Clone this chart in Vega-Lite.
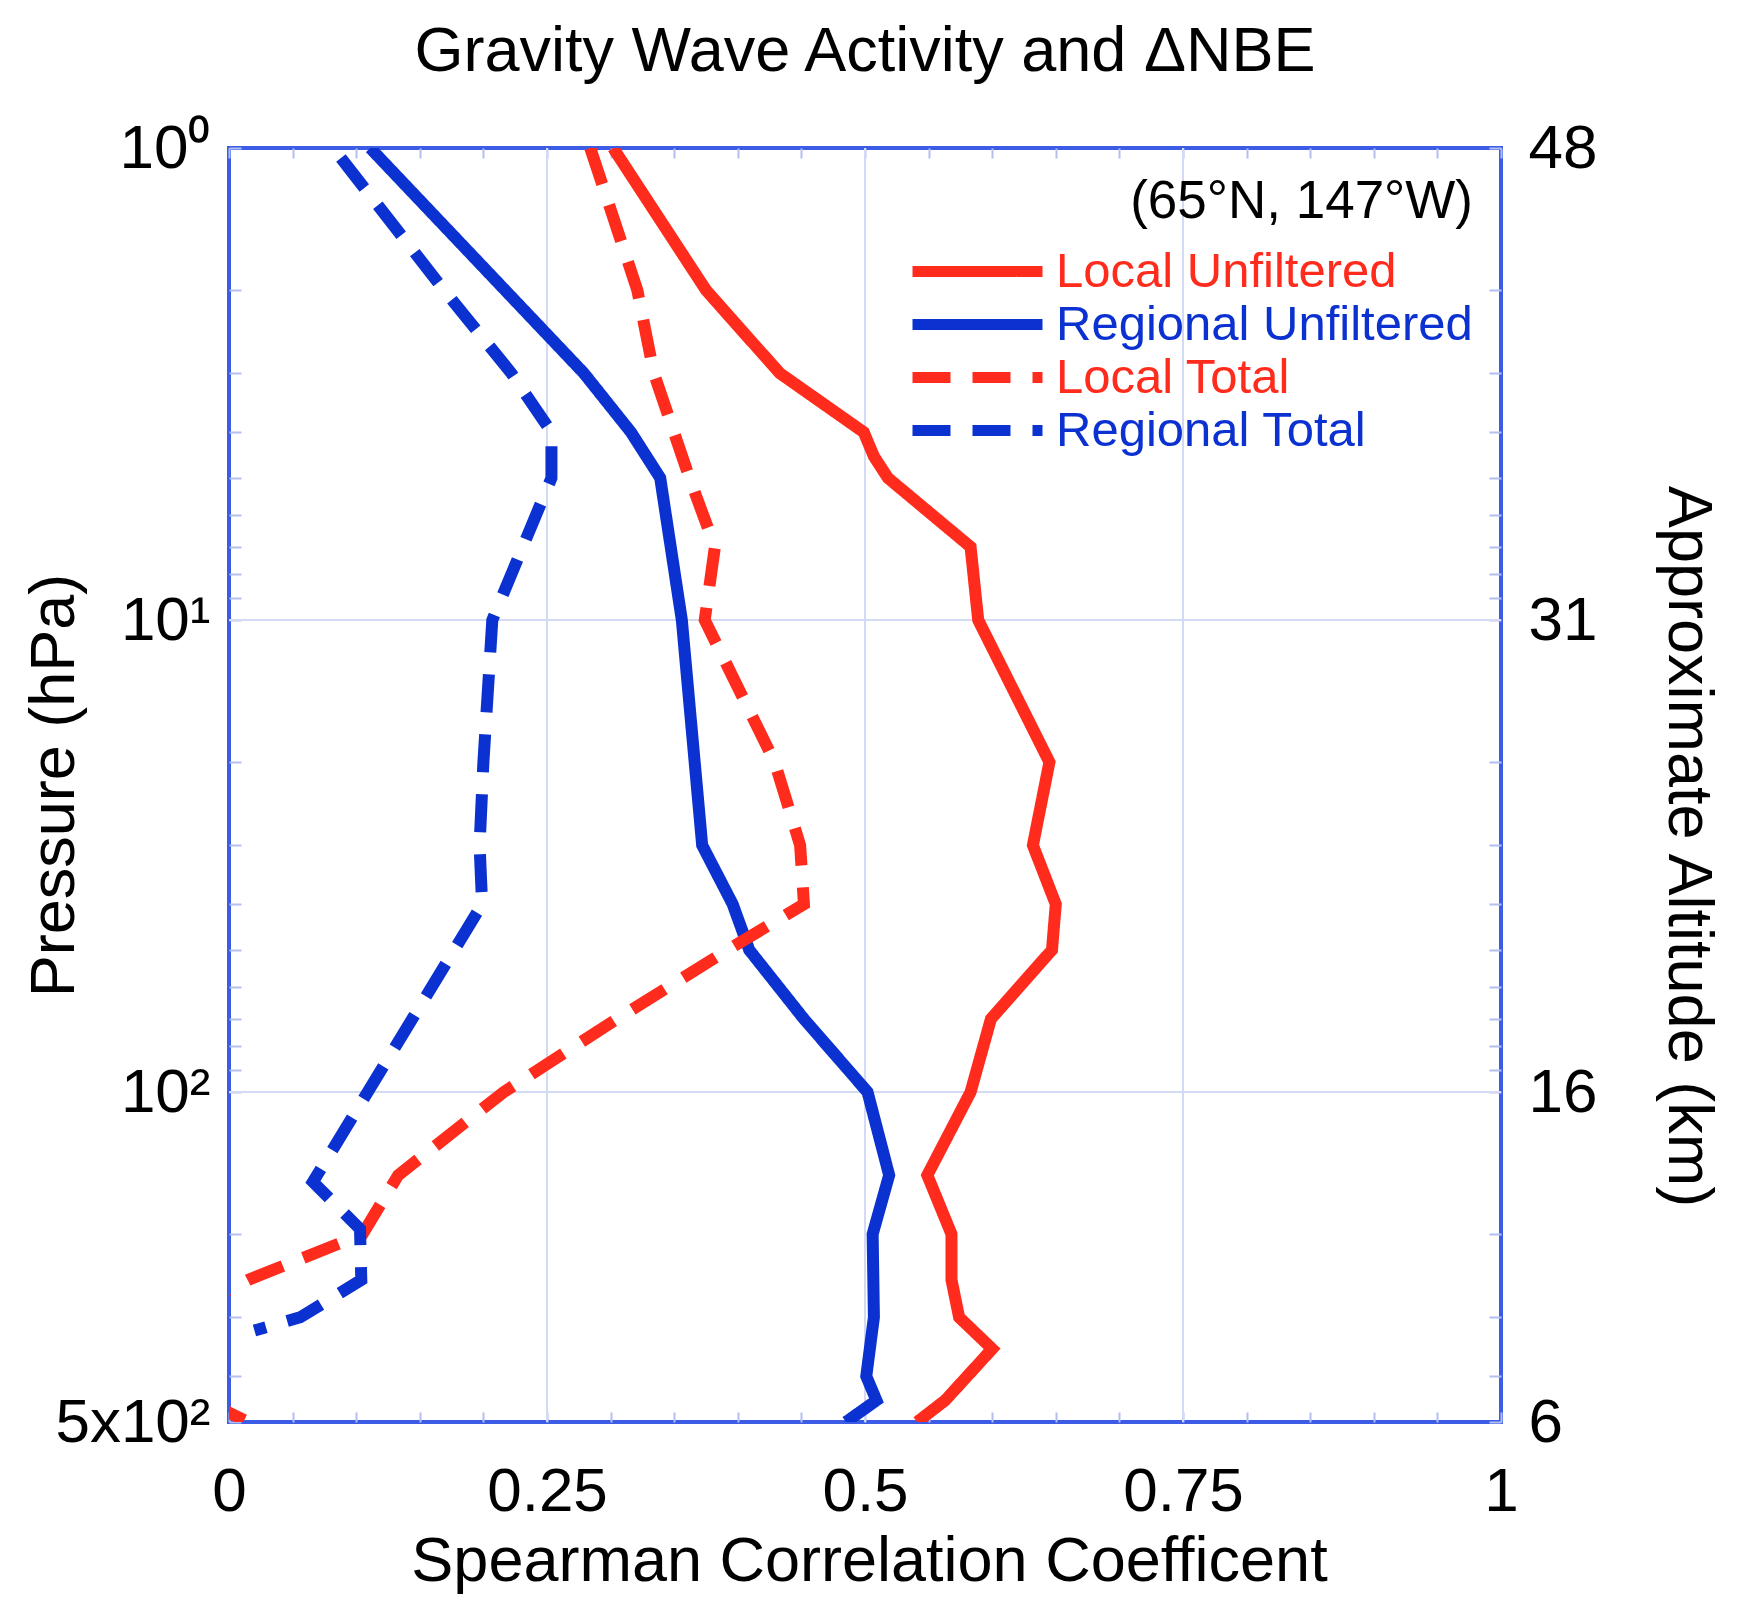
{
  "$schema": "https://vega.github.io/schema/vega-lite/v6.json",
  "width": 1272,
  "height": 1274,
  "autosize": {"type": "none"},
  "padding": {"left": 229, "top": 148, "right": 245, "bottom": 180},
  "background": "white",
  "title": {
    "text": "Gravity Wave Activity and ΔNBE",
    "fontSize": 63,
    "font": "Liberation Sans",
    "fontWeight": "normal",
    "color": "black",
    "anchor": "middle",
    "baseline": "alphabetic",
    "offset": -17
  },
  "config": {
    "view": {"stroke": "#3d5ce6", "strokeWidth": 4},
    "font": "Liberation Sans",
    "axis": {
      "labelFont": "Liberation Sans",
      "titleFont": "Liberation Sans",
      "labelColor": "black",
      "titleColor": "black",
      "titleFontWeight": "normal",
      "domain": false,
      "grid": false,
      "tickColor": "#b3bff0",
      "tickWidth": 2,
      "labelOverlap": false,
      "labelBound": false,
      "labelFlush": false
    }
  },
  "layer": [
    {
      "data": {"values": [{"r": 0.25}, {"r": 0.5}, {"r": 0.75}]},
      "mark": {"type": "rule", "color": "#d4d9f4", "strokeWidth": 2},
      "encoding": {
        "x": {
          "field": "r",
          "type": "quantitative",
          "scale": {"domain": [0, 1], "nice": false, "zero": false},
          "axis": {
            "orient": "top",
            "values": [0, 0.05, 0.1, 0.15, 0.2, 0.25, 0.3, 0.35, 0.4, 0.45, 0.5, 0.55, 0.6, 0.65, 0.7, 0.75, 0.8, 0.85, 0.9, 0.95, 1],
            "labels": false,
            "tickSize": -10,
            "title": null
          }
        }
      }
    },
    {
      "data": {"values": [{"p": 10}, {"p": 100}]},
      "mark": {"type": "rule", "color": "#d4d9f4", "strokeWidth": 2},
      "encoding": {
        "y": {
          "field": "p",
          "type": "quantitative",
          "scale": {"type": "log", "domain": [1, 500], "reverse": true, "nice": false},
          "axis": {
            "orient": "right",
            "values": [1, 2, 3, 4, 5, 6, 7, 8, 9, 10, 20, 30, 40, 50, 60, 70, 80, 90, 100, 200, 300, 400, 500],
            "labelExpr": "datum.value == 1 ? '48' : datum.value == 10 ? '31' : datum.value == 100 ? '16' : datum.value == 500 ? '6' : ''",
            "labelFontSize": 62,
            "labelAlign": "left",
            "labelBaseline": "middle",
            "labelPadding": 39,
            "tickSize": -12,
            "title": "Approximate Altitude (km)",
            "titleFontSize": 63,
            "titleAngle": 90,
            "titleX": 167,
            "titleY": 698,
            "titleAlign": "center",
            "titleBaseline": "alphabetic"
          }
        }
      }
    },
    {
      "data": {
        "values": [
          {"series": "Local Unfiltered", "p": 1, "r": 0.302},
          {"series": "Local Unfiltered", "p": 2, "r": 0.375},
          {"series": "Local Unfiltered", "p": 3, "r": 0.433},
          {"series": "Local Unfiltered", "p": 4, "r": 0.499},
          {"series": "Local Unfiltered", "p": 4.5, "r": 0.507},
          {"series": "Local Unfiltered", "p": 5, "r": 0.518},
          {"series": "Local Unfiltered", "p": 7, "r": 0.583},
          {"series": "Local Unfiltered", "p": 10, "r": 0.589},
          {"series": "Local Unfiltered", "p": 20, "r": 0.645},
          {"series": "Local Unfiltered", "p": 30, "r": 0.632},
          {"series": "Local Unfiltered", "p": 40, "r": 0.65},
          {"series": "Local Unfiltered", "p": 50, "r": 0.647},
          {"series": "Local Unfiltered", "p": 70, "r": 0.599},
          {"series": "Local Unfiltered", "p": 100, "r": 0.583},
          {"series": "Local Unfiltered", "p": 150, "r": 0.549},
          {"series": "Local Unfiltered", "p": 200, "r": 0.568},
          {"series": "Local Unfiltered", "p": 250, "r": 0.568},
          {"series": "Local Unfiltered", "p": 300, "r": 0.574},
          {"series": "Local Unfiltered", "p": 350, "r": 0.6},
          {"series": "Local Unfiltered", "p": 450, "r": 0.563},
          {"series": "Local Unfiltered", "p": 500, "r": 0.541},
          {"series": "Regional Unfiltered", "p": 1, "r": 0.111},
          {"series": "Regional Unfiltered", "p": 3, "r": 0.279},
          {"series": "Regional Unfiltered", "p": 4, "r": 0.316},
          {"series": "Regional Unfiltered", "p": 5, "r": 0.339},
          {"series": "Regional Unfiltered", "p": 10, "r": 0.356},
          {"series": "Regional Unfiltered", "p": 30, "r": 0.372},
          {"series": "Regional Unfiltered", "p": 40, "r": 0.396},
          {"series": "Regional Unfiltered", "p": 50, "r": 0.409},
          {"series": "Regional Unfiltered", "p": 70, "r": 0.452},
          {"series": "Regional Unfiltered", "p": 100, "r": 0.502},
          {"series": "Regional Unfiltered", "p": 150, "r": 0.519},
          {"series": "Regional Unfiltered", "p": 200, "r": 0.506},
          {"series": "Regional Unfiltered", "p": 300, "r": 0.507},
          {"series": "Regional Unfiltered", "p": 400, "r": 0.501},
          {"series": "Regional Unfiltered", "p": 450, "r": 0.509},
          {"series": "Regional Unfiltered", "p": 500, "r": 0.485},
          {"series": "Local Total", "p": 1, "r": 0.284},
          {"series": "Local Total", "p": 2, "r": 0.321},
          {"series": "Local Total", "p": 3, "r": 0.334},
          {"series": "Local Total", "p": 5, "r": 0.362},
          {"series": "Local Total", "p": 7, "r": 0.382},
          {"series": "Local Total", "p": 10, "r": 0.374},
          {"series": "Local Total", "p": 20, "r": 0.429},
          {"series": "Local Total", "p": 30, "r": 0.449},
          {"series": "Local Total", "p": 40, "r": 0.452},
          {"series": "Local Total", "p": 50, "r": 0.392},
          {"series": "Local Total", "p": 70, "r": 0.305},
          {"series": "Local Total", "p": 100, "r": 0.216},
          {"series": "Local Total", "p": 150, "r": 0.133},
          {"series": "Local Total", "p": 200, "r": 0.105},
          {"series": "Local Total", "p": 250, "r": 0.015},
          {"series": "Local Total", "p": 300, "r": -0.04},
          {"series": "Local Total", "p": 350, "r": -0.06},
          {"series": "Local Total", "p": 400, "r": -0.05},
          {"series": "Local Total", "p": 450, "r": -0.02},
          {"series": "Local Total", "p": 500, "r": 0.015},
          {"series": "Regional Total", "p": 1.05, "r": 0.088},
          {"series": "Regional Total", "p": 2, "r": 0.169},
          {"series": "Regional Total", "p": 3, "r": 0.222},
          {"series": "Regional Total", "p": 4, "r": 0.2535},
          {"series": "Regional Total", "p": 5, "r": 0.2535},
          {"series": "Regional Total", "p": 10, "r": 0.207},
          {"series": "Regional Total", "p": 20, "r": 0.2},
          {"series": "Regional Total", "p": 30, "r": 0.197},
          {"series": "Regional Total", "p": 40, "r": 0.199},
          {"series": "Regional Total", "p": 100, "r": 0.109},
          {"series": "Regional Total", "p": 155, "r": 0.066},
          {"series": "Regional Total", "p": 195, "r": 0.103},
          {"series": "Regional Total", "p": 250, "r": 0.104},
          {"series": "Regional Total", "p": 300, "r": 0.056},
          {"series": "Regional Total", "p": 320, "r": 0.02}
        ]
      },
      "mark": {"type": "line", "strokeWidth": 12, "clip": true, "strokeCap": "butt", "strokeJoin": "miter"},
      "encoding": {
        "x": {
          "field": "r",
          "type": "quantitative",
          "scale": {"domain": [0, 1], "nice": false, "zero": false},
          "axis": {
            "orient": "bottom",
            "values": [0, 0.05, 0.1, 0.15, 0.2, 0.25, 0.3, 0.35, 0.4, 0.45, 0.5, 0.55, 0.6, 0.65, 0.7, 0.75, 0.8, 0.85, 0.9, 0.95, 1],
            "labelExpr": "round(datum.value * 20) % 5 == 0 ? format(datum.value, '~g') : ''",
            "labelFontSize": 62,
            "labelBaseline": "alphabetic",
            "labelPadding": 98,
            "tickSize": -10,
            "title": "Spearman Correlation Coefficent",
            "titleFontSize": 63,
            "titleX": 640,
            "titleY": 158,
            "titleAlign": "center",
            "titleBaseline": "alphabetic"
          }
        },
        "y": {
          "field": "p",
          "type": "quantitative",
          "scale": {"type": "log", "domain": [1, 500], "reverse": true, "nice": false},
          "axis": {
            "orient": "left",
            "values": [1, 2, 3, 4, 5, 6, 7, 8, 9, 10, 20, 30, 40, 50, 60, 70, 80, 90, 100, 200, 300, 400, 500],
            "labelExpr": "datum.value == 1 ? '10⁰' : datum.value == 10 ? '10¹' : datum.value == 100 ? '10²' : datum.value == 500 ? '5x10²' : ''",
            "labelFontSize": 62,
            "labelAlign": "right",
            "labelBaseline": "middle",
            "labelPadding": 31,
            "tickSize": -12,
            "title": "Pressure (hPa)",
            "titleFontSize": 63,
            "titleAngle": 270,
            "titleX": -156,
            "titleY": 637,
            "titleAlign": "center",
            "titleBaseline": "alphabetic"
          }
        },
        "color": {
          "field": "series",
          "type": "nominal",
          "sort": ["Local Unfiltered", "Regional Unfiltered", "Local Total", "Regional Total"],
          "scale": {
            "domain": ["Local Unfiltered", "Regional Unfiltered", "Local Total", "Regional Total"],
            "range": ["#ff2b1c", "#0b31d1", "#ff2b1c", "#0b31d1"]
          },
          "legend": {
            "title": "(65°N, 147°W)",
            "orient": "top-right",
            "offset": 28,
            "padding": 0,
            "titleFontSize": 53,
            "titleFont": "Liberation Sans",
            "titleColor": "black",
            "titleFontWeight": "normal",
            "titleAnchor": "end",
            "titleLimit": 2000,
            "titlePadding": 16,
            "labelFontSize": 49,
            "labelFont": "Liberation Sans",
            "labelOffset": 8,
            "labelLimit": 2000,
            "symbolType": "stroke",
            "symbolSize": 16900,
            "symbolStrokeWidth": 11,
            "clipHeight": 53,
            "rowPadding": 0,
            "encode": {"labels": {"update": {"fill": {"scale": "color", "field": "value"}}}}
          }
        },
        "strokeDash": {
          "field": "series",
          "type": "nominal",
          "sort": ["Local Unfiltered", "Regional Unfiltered", "Local Total", "Regional Total"],
          "scale": {
            "domain": ["Local Unfiltered", "Regional Unfiltered", "Local Total", "Regional Total"],
            "range": [[1, 0], [1, 0], [38, 22], [38, 22]]
          },
          "legend": {
            "title": "(65°N, 147°W)",
            "orient": "top-right",
            "offset": 28,
            "padding": 0,
            "titleFontSize": 53,
            "titleFont": "Liberation Sans",
            "titleColor": "black",
            "titleFontWeight": "normal",
            "titleAnchor": "end",
            "titleLimit": 2000,
            "titlePadding": 16,
            "labelFontSize": 49,
            "labelFont": "Liberation Sans",
            "labelOffset": 8,
            "labelLimit": 2000,
            "symbolType": "stroke",
            "symbolSize": 16900,
            "symbolStrokeWidth": 11,
            "clipHeight": 53,
            "rowPadding": 0,
            "encode": {"labels": {"update": {"fill": {"scale": "color", "field": "value"}}}}
          }
        },
        "order": {"field": "p", "type": "quantitative"}
      }
    }
  ],
  "resolve": {"axis": {"x": "independent", "y": "independent"}}
}
